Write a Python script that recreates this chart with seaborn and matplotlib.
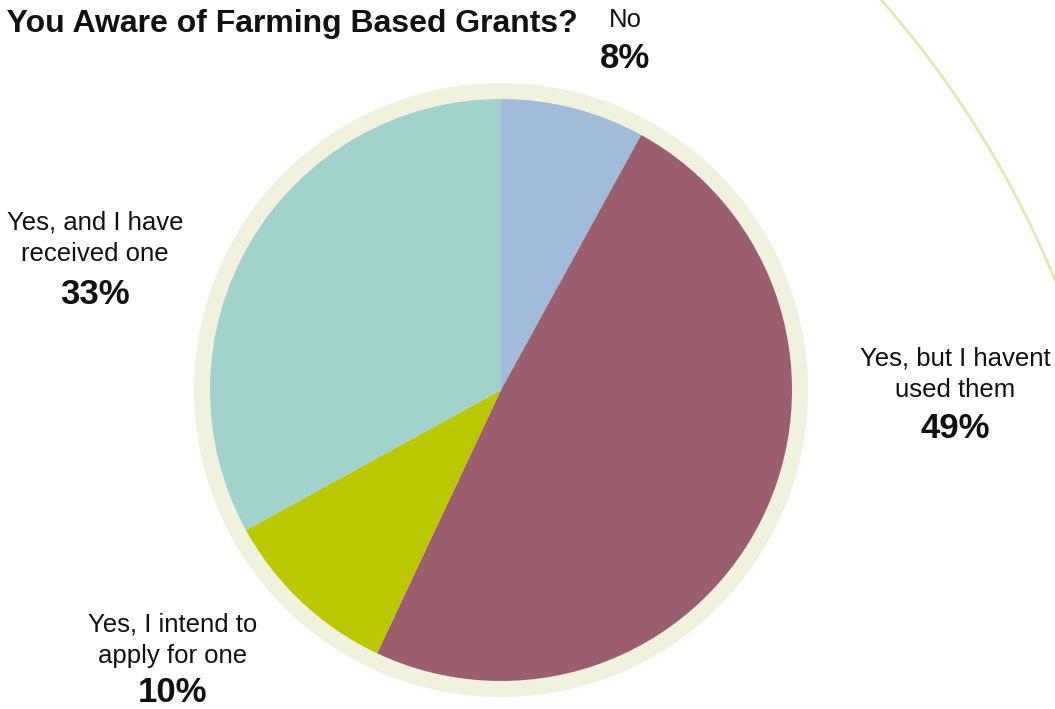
import matplotlib
matplotlib.use("Agg")
import matplotlib.pyplot as plt
from matplotlib.patches import Circle, Arc
import seaborn as sns

categories = ["No", "Yes, but I havent\nused them", "Yes, I intend to\napply for one", "Yes, and I have\nreceived one"]
shares = [8, 49, 10, 33]
slice_colors = ["#A1BCDA", "#9B5E6E", "#BBC800", "#A0D3CB"]
title = "Are You Aware of Farming Based Grants?"

sns.set_theme(style="white")
plt.rcParams["font.family"] = ["Liberation Sans", "DejaVu Sans"]

W, H = 1055, 709
fig = plt.figure(figsize=(W / 100, H / 100), dpi=100)
ax = fig.add_axes([0, 0, 1, 1])

cx, cy, r = 501, H - 390, 291

# decorative sweeping arc at the right
ax.add_patch(Arc((130, H - 660), 2000, 2000, theta1=0, theta2=90,
                 color="#E4E9B3", lw=2.0, zorder=0))

# cream ring behind the pie
ax.add_patch(Circle((cx, cy), r + 16, facecolor="#F1F2DD", edgecolor="none", zorder=1))

wedges, _ = ax.pie(shares, colors=slice_colors, startangle=90, counterclock=False,
                   center=(cx, cy), radius=r, frame=True,
                   wedgeprops=dict(linewidth=0))
for w in wedges:
    w.set_zorder(2)
ax.set_xlim(0, W)
ax.set_ylim(0, H)
ax.set_aspect("equal")
ax.axis("off")

label_pos = [(625, 20), (955, 374), (173, 640), (95, 238)]
pct_pos = [(625, 58), (955, 428), (173, 692), (95, 295)]
for cat, val, (lx, ly), (px, py) in zip(categories, shares, label_pos, pct_pos):
    ax.text(lx, H - ly, cat, ha="center", va="center", fontsize=18.5,
            linespacing=1.4, color="#111111")
    ax.text(px, H - py, f"{val}%", ha="center", va="center", fontsize=25,
            fontweight="bold", color="#111111")

ax.text(578, H - 24, title, ha="right", va="center", fontsize=23, fontweight="bold",
        color="#111111")

fig.savefig("out.png", dpi=100)
